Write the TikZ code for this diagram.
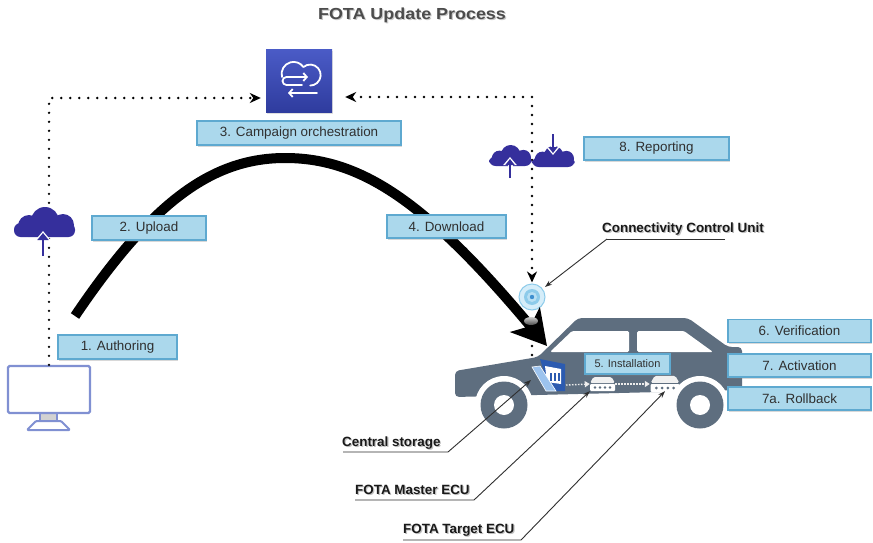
\documentclass[tikz,border=0pt]{standalone}
\usepackage{fontspec}
\setmainfont{Liberation Sans}
\newfontfamily\titlefont{Liberation Sans}[FakeStretch=1.12]
\usetikzlibrary{arrows.meta,shadows,calc}

\definecolor{boxfill}{HTML}{ABD8EC}
\definecolor{boxedge}{HTML}{5EA9D0}
\definecolor{boxtext}{HTML}{303030}
\definecolor{cloudblue}{HTML}{352F9C}
\definecolor{carbody}{HTML}{5E6E7F}
\definecolor{synctop}{HTML}{4A5BC6}
\definecolor{syncbot}{HTML}{2F3C9E}
\definecolor{monedge}{HTML}{8090D2}
\definecolor{leader}{HTML}{2F2F2F}
\definecolor{ccuglow}{HTML}{D5EDF9}
\definecolor{ccuring}{HTML}{8DCBEA}
\definecolor{ccucore}{HTML}{3E8FCF}
\definecolor{folderdark}{HTML}{2C5BB0}
\definecolor{folderlight}{HTML}{9CC3EE}
\definecolor{titlegray}{HTML}{4C4C4C}

\tikzset{
  stepbox/.style={draw=boxedge, fill=boxfill, line width=1.1pt, text=boxtext,
    font=\fontsize{13.4}{16}\selectfont, minimum height=24pt, inner sep=0pt,
    drop shadow={shadow xshift=1.3pt, shadow yshift=-1.5pt, opacity=0.3}},
  dotline/.style={draw=black, line width=2.6pt, line cap=round, dash pattern=on 0pt off 9pt},
  dottip/.tip={Stealth[length=11pt,width=10pt,inset=3.5pt]},
  leaderline/.style={draw=leader, line width=0.9pt},
  leadtip/.tip={Stealth[length=7pt,width=5pt]},
  calloutlbl/.style={font=\bfseries\fontsize{13.4}{16}\selectfont, inner sep=0pt, anchor=base west},
  cloudpic/.pic={
    \fill[cloudblue, rounded corners=6.5pt] (-30,-14) rectangle (31,0);
    \fill[cloudblue] (-15,-11) circle[radius=11pt] (1,-16) circle[radius=14pt] (19,-12) circle[radius=11pt];
  },
  ecupic/.pic={
    \fill[gray!12, rounded corners=1.5pt] (-9,-7) -- (9,-7) -- (12.5,-1) -- (-12.5,-1) -- cycle;
    \fill[white, rounded corners=1pt] (-12.5,0) rectangle (12.5,7);
    \foreach \dx in {-7.5,-2.5,2.5,7.5} \fill[carbody] (\dx,3.5) circle[radius=1.3pt];
  },
}

% a bold callout text with a soft grey shadow behind it
\newcommand\callouttext[3]{%
  \node[calloutlbl, text=black!35, opacity=0.7] (#1sh) at ($(#2)+(1.2,1.5)$) {#3};
  \node[calloutlbl, text=black!90] (#1) at (#2) {#3};}

\begin{document}
\begin{tikzpicture}[x=1pt, y=-1pt]
\useasboundingbox (0,0) rectangle (873,543);
\fill[white] (0,0) rectangle (873,543);

% title
\node[font=\titlefont\bfseries\fontsize{16}{19}\selectfont, text=black!30, opacity=0.7] (titlesh) at (413.2,16.5) {FOTA Update Process};
\node[font=\titlefont\bfseries\fontsize{16}{19}\selectfont, text=titlegray] (title) at (412,15) {FOTA Update Process};

% cloud service (campaign orchestration)
\node[minimum width=66pt, minimum height=62pt, inner sep=0, top color=synctop, bottom color=syncbot,
      drop shadow={shadow xshift=1.2pt, shadow yshift=-1.5pt, opacity=0.25}] (sync) at (299,81) {};
\begin{scope}[shift={(sync.center)}, y=1pt, draw=white, line width=1.8pt, line cap=round, line join=round]
  \draw (-17,4) arc[start angle=195, end angle=35, radius=12]
        arc[start angle=130, end angle=-90, radius=10.5];
  \draw[-{Straight Barb[length=3.5pt,width=8pt]}] (3,-4) -- (-12.5,-4) arc[start angle=270, end angle=90, radius=4] -- (9,4);
  \draw[-{Straight Barb[length=3.5pt,width=8pt]}] (18,-12) -- (-11,-12);
\end{scope}

% authoring workstation
\filldraw[draw=monedge, fill=gray!35, line width=1.8pt] (40,413) rectangle (57,421);
\filldraw[draw=monedge, fill=white, line width=2pt, rounded corners=1pt, line join=round] (36,421) -- (61,421) -- (70,430) -- (27,430) -- cycle;
\node[draw=monedge, fill=white, line width=2.4pt, rounded corners=1.5pt, minimum width=82pt, minimum height=47pt, inner sep=0] (mon) at (49,389.5) {};

% vehicle
\fill[carbody, rounded corners=4pt] (455,371) -- (538,357) -- (578,318) -- (688,318) -- (728,347) -- (742,347) -- (742,390) -- (455,397) -- cycle;
\fill[white, rounded corners=1.5pt] (550,352) -- (572,331) -- (629,331) -- (629,352) -- cycle;
\fill[white, rounded corners=1.5pt] (637,331) -- (684,331) -- (713,352) -- (637,352) -- cycle;
\foreach \cx in {504,700} {
  \fill[white] (\cx,405) circle[radius=29pt];
  \fill[carbody] (\cx,405) circle[radius=23.5pt];
  \fill[white] (\cx,405) circle[radius=10pt];
}

% dotted management links
\draw[dotline, -dottip] (mon.north) |- ([xshift=-5pt,yshift=-17pt]sync.west);
\node[circle, fill=ccuglow, draw=ccuring, line width=1pt, minimum size=26pt, inner sep=0] (ccu) at (532,297) {};
\draw[dotline, dottip-dottip, shorten >=1pt] ([xshift=13pt,yshift=-16pt]sync.east) -| (ccu.north);
\coordinate (ccubase) at (532,328);
\coordinate (storagetop) at (532,362);
\draw[dotline] (ccubase) -- (storagetop);

% upload cloud
\pic at (44,237) {cloudpic};
\draw[white, line width=6pt, -{Triangle[length=10pt,width=16pt]}] (43,252) -- (43,231);
\draw[cloudblue, line width=2.8pt, -{Triangle[length=7pt,width=11pt]}] (43,256) -- (43,233);

% reporting clouds
\pic[scale=0.7] at (510,166) {cloudpic};
\pic[scale=0.7] at (553,167) {cloudpic};
\draw[white, line width=5pt, -{Triangle[length=8pt,width=13pt]}] (510,175) -- (510,157);
\draw[cloudblue, line width=2.2pt, -{Triangle[length=6pt,width=9pt]}] (510,178) -- (510,159);
\draw[white, line width=5pt, -{Triangle[length=8pt,width=13pt]}] (553,138) -- (553,155);
\draw[cloudblue, line width=2.2pt, -{Triangle[length=6pt,width=9pt]}] (553,134) -- (553,153);

% over-the-air distribution
\coordinate (arcstart) at (75,316);
\coordinate (arcend) at (547,346);
\draw[line width=10pt, -{Stealth[length=34pt,width=38pt,inset=8pt]}]
  (arcstart) .. controls (150,205) and (210,158) .. (285,158)
             .. controls (360,158) and (425,200) .. (arcend);

% connectivity control unit
\fill[ccuring] (ccu.center) circle[radius=8pt];
\fill[ccuglow!60!ccuring] (ccu.center) circle[radius=5pt];
\fill[ccucore] (ccu.center) circle[radius=2.2pt];
\shade[top color=gray!40, bottom color=black!70] (531,321) ellipse[x radius=7pt, y radius=4pt];

% central storage
\fill[folderdark] (540,359) -- (565,364) -- (565,391) -- (550,391) -- cycle;
\fill[white] (545,366) -- (561,369) -- (561,384) -- (547,382) -- cycle;
\foreach \bx in {550,554,558} \fill[folderdark] (\bx,373) rectangle ++(2.2,8);
\fill[folderlight, draw=white, line width=0.6pt] (532,367) -- (540,366) -- (556,391) -- (546,391) -- cycle;
\coordinate (storagetip) at (531,380);

% ECUs
\node[inner sep=0, minimum width=25pt, minimum height=14pt] (master) at (602.5,384) {};
\pic at (master) {ecupic};
\node[inner sep=0, minimum width=30pt, minimum height=14pt] (target) at (665,384) {};
\pic[scale=1.15] at (target) {ecupic};
\draw[draw=gray!15, line width=1.4pt, dash pattern=on 1.5pt off 1.5pt, -{Triangle[length=5pt,width=6pt,fill=white]}] (566,385) -- (master.west);
\draw[draw=gray!15, line width=1.4pt, dash pattern=on 1.5pt off 1.5pt, -{Triangle[length=5pt,width=6pt,fill=white]}] (master.east) -- (target.west);

% process steps
\node[stepbox, minimum width=204pt] (campaign) at (299,133) {3. Campaign orchestration};
\node[stepbox, minimum width=114pt] (upload) at (149,228) {2. Upload};
\node[stepbox, minimum width=119pt, minimum height=23pt] (download) at (446.5,226.5) {4. Download};
\node[stepbox, minimum width=119pt] (authoring) at (117.5,347) {1. Authoring};
\node[stepbox, minimum width=145pt, minimum height=23pt] (reporting) at (656.5,148.5) {8. Reporting};
\node[stepbox, minimum width=85pt, minimum height=20pt, font=\fontsize{11}{13}\selectfont] (install) at (627.5,364) {5. Installation};
\node[stepbox, minimum width=143pt, minimum height=23pt] (verify) at (799.5,331) {6. Verification};
\node[stepbox, minimum width=143pt, minimum height=23pt] (activate) at (799.5,365.5) {7. Activation};
\node[stepbox, minimum width=143pt, minimum height=23pt] (rollback) at (799.5,398.5) {7a. Rollback};

% callouts
\callouttext{ccutext}{602,232}{Connectivity Control Unit}
\callouttext{storetext}{342,446}{Central storage}
\callouttext{mastertext}{355,494}{FOTA Master ECU}
\callouttext{targettext}{403,533}{FOTA Target ECU}

\coordinate (ccuknee) at (607,239);
\coordinate (ccuend) at (725,239);
\draw[leaderline] (ccuend) -- (ccuknee);
\draw[leaderline, -leadtip, shorten >=3pt] (ccuknee) -- (ccu);

\coordinate (storeleft) at (343,452);
\coordinate (storeknee) at (448,452);
\draw[leaderline, -leadtip] (storeleft) -- (storeknee) -- (storagetip);

\coordinate (masterleft) at (355,500);
\coordinate (masterknee) at (474,500);
\draw[leaderline, -leadtip] (masterleft) -- (masterknee) -- (master.south west);

\coordinate (targetleft) at (403,540);
\coordinate (targetknee) at (521,540);
\draw[leaderline, -leadtip] (targetleft) -- (targetknee) -- (target.south);
\end{tikzpicture}
\end{document}
